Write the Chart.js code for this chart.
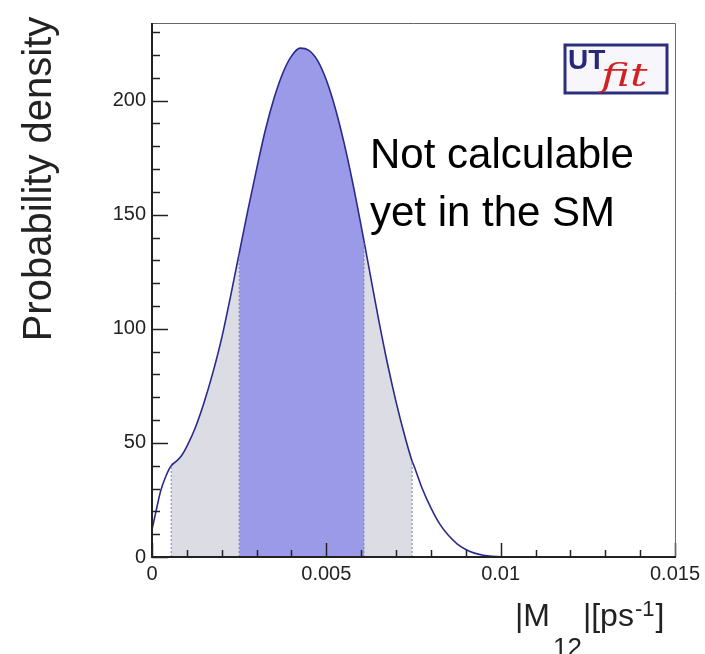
<!DOCTYPE html>
<html>
<head>
<meta charset="utf-8">
<script src="https://cdn.jsdelivr.net/npm/chart.js@4"></script>
<style>
  html, body { margin: 0; padding: 0; background: #fff; }
  #wrap { width: 705px; height: 654px; }
</style>
</head>
<body>
<div id="wrap"><canvas id="m12Chart" width="705" height="654"></canvas></div>
<script>
'use strict';

// data -----------------------------------------------------------------------
let m12Values = [0, 0.0001, 0.00025, 0.0004, 0.00055, 0.0007, 0.00085, 0.001, 0.00125, 0.0015,
  0.00175, 0.002, 0.00225, 0.0025, 0.00275, 0.003, 0.00325, 0.0035, 0.00375, 0.004,
  0.00425, 0.0045, 0.00475, 0.005, 0.00525, 0.0055, 0.00575, 0.006, 0.00608, 0.00625,
  0.0065, 0.00675, 0.007, 0.00725, 0.00746, 0.0075, 0.00775, 0.008, 0.00825, 0.0085,
  0.00875, 0.009, 0.00925, 0.0095, 0.00975, 0.01, 0.0125, 0.015];
let density = [12, 19, 29, 35.5, 40, 42, 44.5, 48.5, 57, 68,
  81, 96, 114, 133, 152, 170, 187, 201, 212, 219.5,
  223, 222, 217.5, 209, 197, 182, 164.5, 145, 138.5, 124.5,
  104, 85, 68, 53, 42, 40.5, 30, 21.5, 14.5, 9.5,
  5.8, 3.3, 1.7, 0.8, 0.3, 0.1, 0, 0];
let grayBand = [0.00055, 0.00746];
let blueBand = [0.0025, 0.00608];
let yTickLabels = [0, 50, 100, 150, 200];
let xTickLabels = ['0', '0.005', '0.01', '0.015'];

let blueFill = '#9a9ae8';
let grayFill = '#dcdce5';
let curveColor = '#2a2a8c';

function densityAt(x) {
  let i = m12Values.indexOf(x);
  return density[i];
}

let curvePoints = [];
for (let i = 0; i < m12Values.length; i++) {
  curvePoints.push({ x: m12Values[i], y: density[i] });
}

// dotted lines at the band edges
let edgeSets = [];
let edges = [grayBand[0], blueBand[0], blueBand[1], grayBand[1]];
for (let i = 0; i < edges.length; i++) {
  edgeSets.push({
    data: [{ x: edges[i], y: 0 }, { x: edges[i], y: densityAt(edges[i]) }],
    borderColor: '#7d7db5',
    borderWidth: 1,
    borderDash: [2, 2],
    pointRadius: 0,
    fill: false,
    order: 0
  });
}

function bandColor(ctx) {
  let a = ctx.p0.parsed.x;
  let b = ctx.p1.parsed.x;
  if (a >= blueBand[0] && b <= blueBand[1]) return blueFill;
  if (a >= grayBand[0] && b <= grayBand[1]) return grayFill;
  return 'rgba(0,0,0,0)';
}

// ticks pointing in, frame, titles and labels
let decorPlugin = {
  id: 'decor',
  afterDatasetsDraw(chart) {
    let ctx = chart.ctx;
    let area = chart.chartArea;
    let xs = chart.scales.x;
    let ys = chart.scales.y;
    ctx.save();

    // minor / major ticks
    ctx.strokeStyle = '#222';
    ctx.lineWidth = 1.5;
    ys.ticks.forEach(function (t) {
      let py = Math.round(ys.getPixelForValue(t.value)) + 0.5;
      let len = yTickLabels.includes(Math.round(t.value)) ? 16 : 8;
      ctx.beginPath();
      ctx.moveTo(area.left, py);
      ctx.lineTo(area.left + len, py);
      ctx.stroke();
    });
    xs.ticks.forEach(function (t) {
      let px = Math.round(xs.getPixelForValue(t.value)) + 0.5;
      let major = Math.abs(t.value / 0.005 - Math.round(t.value / 0.005)) < 1e-6;
      let len = major ? 14 : 7;
      ctx.beginPath();
      ctx.moveTo(px, area.bottom);
      ctx.lineTo(px, area.bottom - len);
      ctx.stroke();
    });

    // frame
    ctx.strokeStyle = '#666';
    ctx.lineWidth = 1;
    ctx.beginPath();
    ctx.moveTo(area.left, area.top + 0.5);
    ctx.lineTo(area.right + 0.5, area.top + 0.5);
    ctx.lineTo(area.right + 0.5, area.bottom);
    ctx.stroke();
    ctx.strokeStyle = '#222';
    ctx.lineWidth = 2;
    ctx.beginPath();
    ctx.moveTo(area.left, area.top);
    ctx.lineTo(area.left, area.bottom);
    ctx.lineTo(area.right + 1, area.bottom);
    ctx.stroke();

    // y title
    ctx.fillStyle = '#222';
    ctx.font = '40px "Liberation Sans", Arial, sans-serif';
    ctx.textAlign = 'center';
    ctx.textBaseline = 'middle';
    ctx.save();
    ctx.translate(40, 179);
    ctx.rotate(-Math.PI / 2);
    ctx.fillText('Probability density', 0, 0);
    ctx.restore();

    // x title |M12|[ps-1]
    ctx.textAlign = 'left';
    ctx.textBaseline = 'alphabetic';
    let big = '32px "Liberation Sans", Arial, sans-serif';
    let small = '26px "Liberation Sans", Arial, sans-serif';
    let sup = '22px "Liberation Sans", Arial, sans-serif';
    let pos = 515;
    ctx.font = big;
    ctx.fillText('|M', pos, 626);
    pos += ctx.measureText('|M').width + 3;
    ctx.font = small;
    ctx.fillText('12', pos, 656);
    pos += ctx.measureText('12').width + 1;
    ctx.font = big;
    ctx.fillText('|[ps', pos, 626);
    pos += ctx.measureText('|[ps').width + 1;
    ctx.font = sup;
    ctx.fillText('-1', pos, 616);
    pos += ctx.measureText('-1').width + 1;
    ctx.font = big;
    ctx.fillText(']', pos, 626);

    // note
    ctx.fillStyle = '#000';
    ctx.font = '42px "Liberation Sans", Arial, sans-serif';
    ctx.fillText('Not calculable', 370, 168);
    ctx.fillText('yet in the SM', 370, 226);

    // UTfit logo
    ctx.fillStyle = '#f6f6fb';
    ctx.fillRect(565, 45, 102, 48);
    ctx.strokeStyle = '#2e2e7e';
    ctx.lineWidth = 3;
    ctx.strokeRect(565, 45, 102, 48);
    ctx.fillStyle = '#26267a';
    ctx.font = 'bold 28px "Liberation Sans", Arial, sans-serif';
    ctx.fillText('UT', 568, 69);
    ctx.fillStyle = '#d02222';
    ctx.font = 'italic 31px "DejaVu Serif", serif';
    ctx.save();
    ctx.translate(601, 86);
    ctx.scale(1.4, 1);
    ctx.fillText('fit', 0, 0);
    ctx.restore();

    ctx.restore();
  }
};

let chartObject = {
  type: 'line',
  data: {
    datasets: [{
      data: curvePoints,
      borderColor: curveColor,
      borderWidth: 1.6,
      pointRadius: 0,
      cubicInterpolationMode: 'monotone',
      fill: 'origin',
      backgroundColor: 'rgba(0,0,0,0)',
      segment: { backgroundColor: bandColor },
      order: 1
    }].concat(edgeSets)
  },
  options: {
    responsive: false,
    animation: false,
    layout: { padding: { top: 23, right: 28, left: 0, bottom: 0 } },
    plugins: {
      legend: { display: false },
      tooltip: { enabled: false }
    },
    scales: {
      x: {
        type: 'linear',
        min: 0,
        max: 0.015,
        grid: { display: false, drawTicks: false },
        border: { display: false },
        afterFit(scale) { scale.height = 97; },
        ticks: {
          stepSize: 0.001,
          autoSkip: false,
          maxRotation: 0,
          padding: 5,
          color: '#222',
          font: { family: '"Liberation Sans", Arial, sans-serif', size: 20 },
          callback: function (v) {
            let s = String(+Number(v).toFixed(4));
            return xTickLabels.includes(s) ? s : '';
          }
        }
      },
      y: {
        min: 0,
        max: 234,
        grid: { display: false, drawTicks: false },
        border: { display: false },
        afterFit(scale) { scale.width = 152; },
        ticks: {
          stepSize: 10,
          includeBounds: false,
          autoSkip: false,
          padding: 6,
          color: '#222',
          font: { family: '"Liberation Sans", Arial, sans-serif', size: 20 },
          callback: function (v) {
            return yTickLabels.includes(v) ? String(v) : '';
          }
        }
      }
    }
  },
  plugins: [decorPlugin]
};

let ctx = document.getElementById('m12Chart').getContext('2d');
let myChart = new Chart(ctx, chartObject);
</script>
</body>
</html>
